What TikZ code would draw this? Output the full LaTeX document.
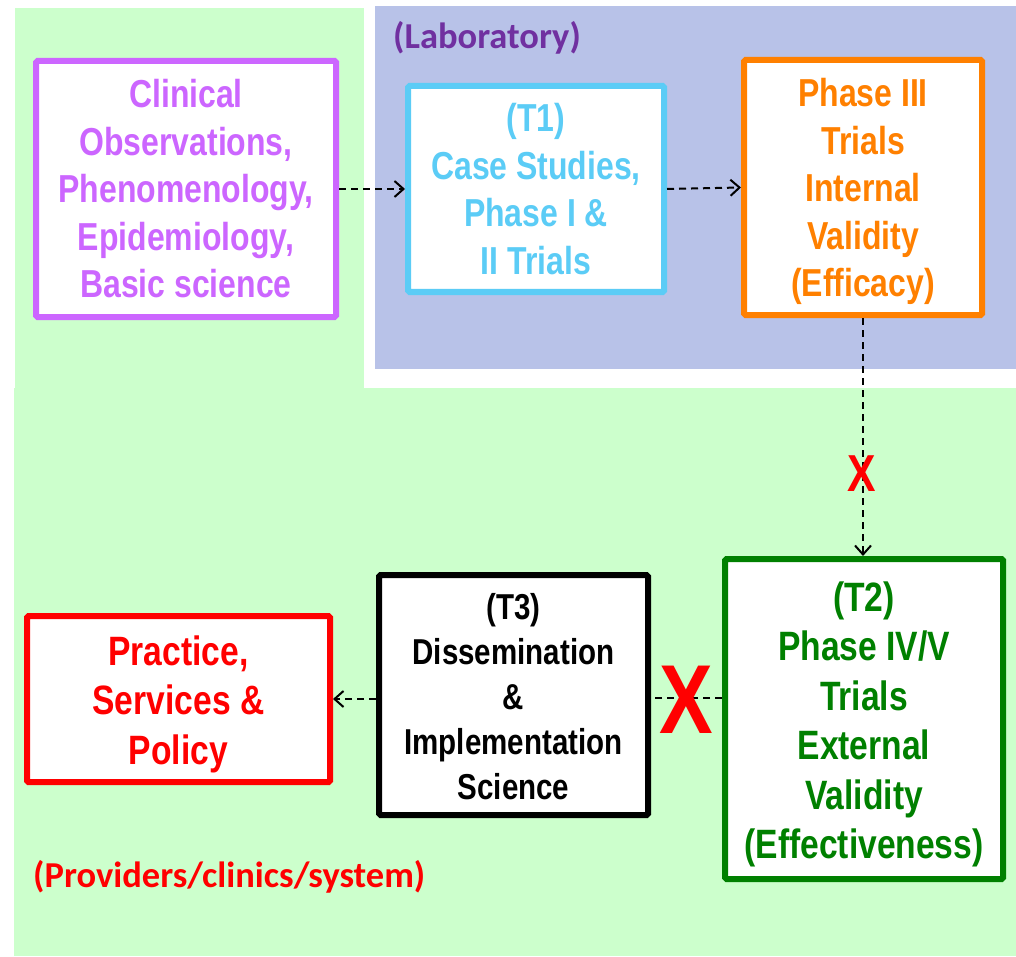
\documentclass[tikz,border=0pt]{standalone}
\usepackage{fontspec}
\setmainfont{Liberation Sans}
\newfontfamily\nar[FakeStretch=0.82]{Liberation Sans}
\newfontfamily\calfont{Carlito}
\usetikzlibrary{arrows.meta}
\definecolor{cpurple}{HTML}{CC66FF}
\definecolor{ccyan}{HTML}{5BCCF6}
\definecolor{corange}{HTML}{FF8000}
\definecolor{cgreen}{HTML}{008000}
\definecolor{cred}{HTML}{FF0000}
\definecolor{clab}{HTML}{7030A0}
\definecolor{bgblue}{HTML}{B8C2E8}
\definecolor{bggreen}{HTML}{CCFFCC}
\tikzset{
  box/.style={draw, line width=6pt, fill=white, rounded corners=1.5pt, inner sep=0pt},
  btext/.style={align=center, inner sep=0pt},
  f39/.style={font=\nar\bfseries\fontsize{39}{47.5}\selectfont},
  f41/.style={font=\nar\bfseries\fontsize{41}{49.5}\selectfont},
  f36/.style={font=\nar\bfseries\fontsize{36}{45}\selectfont},
  conn/.style={line width=2pt, dash pattern=on 7pt off 5pt},
  tip/.style={-{Straight Barb[length=9pt,width=16pt]}},
  xmark/.style={text=cred, inner sep=0pt, font=\nar\bfseries\fontsize{52}{52}\selectfont},
  bigx/.style={text=cred, inner sep=0pt, font=\nar\bfseries\fontsize{98}{98}\selectfont},
  region/.style={font=\calfont\bfseries\fontsize{36.5}{40}\selectfont, inner sep=0pt, anchor=west}
}
\begin{document}
\begin{tikzpicture}[x=1pt,y=-1pt]
\useasboundingbox (0,0) rectangle (1016,957);
% backgrounds
\fill[bggreen] (15,8) rectangle (364,389);
\fill[bggreen] (14,388) rectangle (1016,956);
\fill[bgblue] (375,6) rectangle (1016,369);
\node[region, text=clab] (lab) at (393,38) {(Laboratory)};
\node[region, text=cred] (prov) at (33,877) {(Providers/clinics/system)};
% boxes
\node[box, draw=cpurple, minimum width=300pt, minimum height=256pt] (obs) at (186,189) {};
\node[box, draw=ccyan, minimum width=256pt, minimum height=206pt] (t1) at (536,189) {};
\node[box, draw=corange, minimum width=238pt, minimum height=255pt] (p3) at (863,187.5) {};
\node[box, draw=cgreen, minimum width=278pt, minimum height=320pt] (t2) at (864,719) {};
\node[box, draw=black, minimum width=269pt, minimum height=240pt] (t3) at (513.5,695) {};
\node[box, draw=cred, minimum width=303pt, minimum height=166pt] (prac) at (178.5,699) {};
% box texts
\node[btext, f39, text=cpurple] (obstext) at (obs.center)
  {Clinical\\Observations,\\Phenomenology,\\Epidemiology,\\Basic science};
\node[btext, f39, text=ccyan] (t1text) at (t1.center)
  {(T1)\\Case Studies,\\Phase I \&\\II Trials};
\node[btext, f39, text=corange] (p3text) at ([yshift=-4pt]p3.center)
  {Phase III\\Trials\\Internal\\Validity\\(Efficacy)};
\node[btext, f41, text=cgreen] (t2text) at ([yshift=-5.5pt]t2.center)
  {(T2)\\Phase IV/V\\Trials\\External\\Validity\\(Effectiveness)};
\node[btext, f36, text=black] (t3text) at ([yshift=-1.5pt]t3.center)
  {(T3)\\Dissemination\\\&\\Implementation\\Science};
\node[btext, f41, text=cred] (practext) at ([yshift=-5pt]prac.center)
  {Practice,\\Services \&\\Policy};
% connectors
\draw[conn, tip] (obs.east) -- (t1.west);
\draw[conn, tip] (t1.east) -- (p3.west);
\draw[conn, tip] (p3.south) -- (p3.south |- t2.north);
\draw[conn] (t2.west |- 0,698) -- (t3.east |- 0,698);
\draw[conn, tip] (t3.west |- prac.east) -- (prac.east);
% X marks
\node[xmark] (x1) at (862,474) {X};
\node[bigx] (x2) at (686,700) {X};
\end{tikzpicture}
\end{document}
